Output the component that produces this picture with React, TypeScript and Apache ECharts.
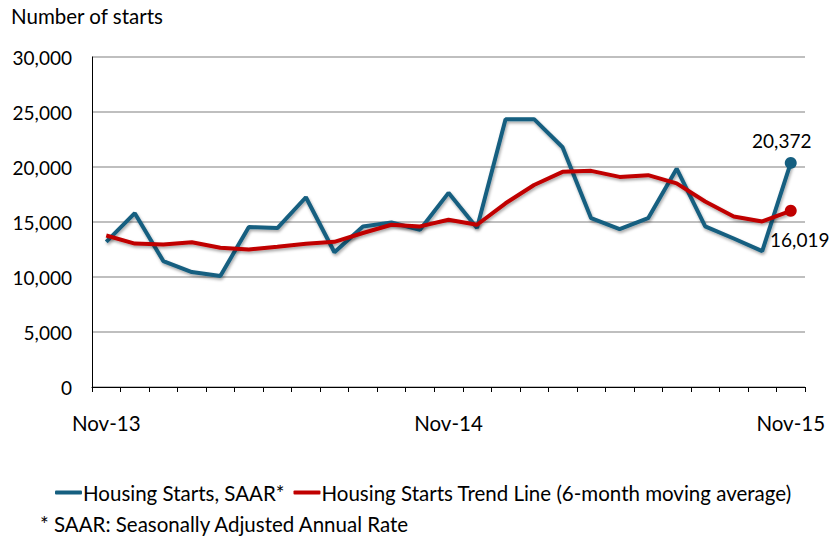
import React, { useEffect, useRef } from "react";
import * as echarts from "echarts";

const categories = [
  "Nov-13","Dec-13","Jan-14","Feb-14","Mar-14","Apr-14","May-14","Jun-14","Jul-14","Aug-14","Sep-14","Oct-14",
  "Nov-14","Dec-14","Jan-15","Feb-15","Mar-15","Apr-15","May-15","Jun-15","Jul-15","Aug-15","Sep-15","Oct-15","Nov-15",
];
const shownLabels = ["Nov-13", "Nov-14", "Nov-15"];
const housingStarts = [
  13200, 15800, 11450, 10450, 10100, 14550, 14450, 17250, 12250, 14600, 14950, 14300,
  17650, 14450, 24350, 24350, 21800, 15350, 14350, 15350, 19850, 14600, 13500, 12350, 20372,
];
const trendLine = [
  13770, 13040, 12950, 13160, 12660, 12500, 12750, 13020, 13200, 14000, 14750, 14600,
  15200, 14750, 16700, 18360, 19560, 19650, 19100, 19260, 18510, 16860, 15500, 15050, 16019,
];
const yTicks = { min: 0, max: 30000, interval: 5000 };
const seriesNames = ["Housing Starts, SAAR*", "Housing Starts Trend Line (6-month moving average)"];
const titleText = "Number of starts";
const footnote = "* SAAR: Seasonally Adjusted Annual Rate";

const FONT = "Lato, 'DejaVu Sans', sans-serif";
const BLUE = "#155f80";
const RED = "#c00000";

export default function App() {
  const ref = useRef<HTMLDivElement>(null);
  useEffect(() => {
    if (!ref.current) return;
    const chart = echarts.init(ref.current, undefined, { renderer: "svg" });
    const last = categories.length - 1;
    const fmt = (v: number) => v.toLocaleString("en-US");
    const mk = (arr: number[], labelPos: string, offset: number[]) =>
      arr.map((v, i) =>
        i === last
          ? {
              value: v,
              label: {
                show: true,
                position: labelPos,
                offset,
                formatter: () => fmt(v),
                fontFamily: FONT,
                fontSize: 19,
                color: "#000",
              },
            }
          : v
      );
    const lineStyle = (color: string) => ({
      color,
      width: 4,
      shadowColor: "rgba(0,0,0,0.35)",
      shadowBlur: 3,
      shadowOffsetX: 1,
      shadowOffsetY: 2,
    });
    chart.setOption({
      animation: false,
      textStyle: { fontFamily: FONT },
      title: {
        text: titleText,
        left: 6,
        top: 0,
        textStyle: { fontFamily: FONT, fontSize: 20.5, fontWeight: "normal", color: "#000" },
      },
      legend: {
        left: 50,
        top: 477,
        itemWidth: 27,
        itemHeight: 4,
        itemGap: 9,
        icon: "roundRect",
        textStyle: { fontFamily: FONT, fontSize: 20.5, color: "#000", padding: [0, 0, 0, -4] },
        data: seriesNames,
      },
      graphic: [
        {
          type: "text",
          left: 40,
          top: 513,
          style: { text: footnote, fontFamily: FONT, fontSize: 20.5, fill: "#000" },
        },
      ],
      grid: { left: 92, right: 27, top: 57, bottom: 151, containLabel: false },
      xAxis: {
        type: "category",
        data: categories,
        boundaryGap: true,
        axisLine: { lineStyle: { color: "#000", width: 1 } },
        axisTick: { show: true, interval: 0, length: 5, lineStyle: { color: "#000" } },
        axisLabel: {
          interval: (_i: number, v: string) => shownLabels.includes(v),
          margin: 25,
          fontFamily: FONT,
          fontSize: 20.5,
          color: "#000",
        },
        splitLine: { show: false },
      },
      yAxis: {
        type: "value",
        min: yTicks.min,
        max: yTicks.max,
        interval: yTicks.interval,
        axisLine: { show: true, lineStyle: { color: "#000", width: 1 } },
        axisTick: { show: false },
        axisLabel: {
          margin: 20,
          fontFamily: FONT,
          fontSize: 19,
          color: "#000",
          formatter: (v: number) => fmt(v),
        },
        splitLine: { show: true, lineStyle: { color: "#bfbfbf", width: 2 } },
      },
      series: [
        {
          name: seriesNames[0],
          type: "line",
          data: mk(housingStarts, "top", [-9, -2]),
          symbol: "circle",
          symbolSize: (_v: any, p: any) => (p.dataIndex === last ? 12 : 0),
          itemStyle: { color: BLUE },
          lineStyle: lineStyle(BLUE),
          z: 2,
        },
        {
          name: seriesNames[1],
          type: "line",
          data: mk(trendLine, "bottom", [9, 8]),
          symbol: "circle",
          symbolSize: (_v: any, p: any) => (p.dataIndex === last ? 12 : 0),
          itemStyle: { color: RED },
          lineStyle: lineStyle(RED),
          z: 3,
        },
      ],
    });
    return () => chart.dispose();
  }, []);
  return <div ref={ref} style={{ width: 832, height: 538, position: "absolute", left: 0, top: 0 }} />;
}
